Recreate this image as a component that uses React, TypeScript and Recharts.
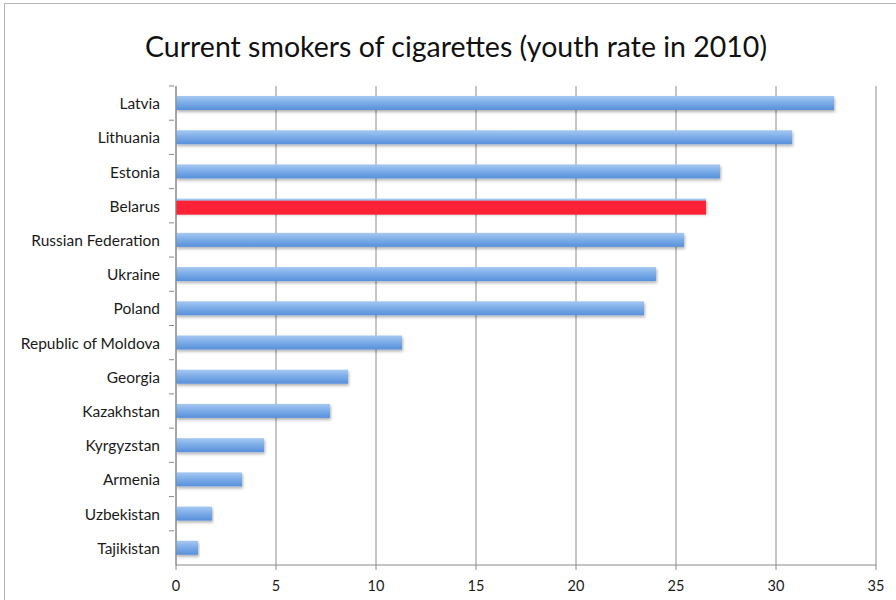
import React from "react";
import { BarChart, Bar, XAxis, YAxis, CartesianGrid, Cell } from "recharts";

const countries = [
  "Latvia",
  "Lithuania",
  "Estonia",
  "Belarus",
  "Russian Federation",
  "Ukraine",
  "Poland",
  "Republic of Moldova",
  "Georgia",
  "Kazakhstan",
  "Kyrgyzstan",
  "Armenia",
  "Uzbekistan",
  "Tajikistan",
];
const rates = [32.9, 30.8, 27.2, 26.5, 25.4, 24.0, 23.4, 11.3, 8.6, 7.7, 4.4, 3.3, 1.8, 1.1];
const highlighted = "Belarus";
const xTicks = [0, 5, 10, 15, 20, 25, 30, 35];
const title = "Current smokers of cigarettes (youth rate in 2010)";

const data = countries.map((c, i) => ({ country: c, rate: rates[i] }));

const W = 896;
const H = 600;
const M = { top: 86, right: 20, bottom: 0, left: 0 };
const X_AXIS_H = 35;
const Y_AXIS_W = 176;
const FONT = "Lato, 'Open Sans', sans-serif";
const bandSize = (H - M.top - M.bottom - X_AXIS_H) / countries.length;

const YTick = (props: any) => {
  const { x, y, payload } = props;
  return (
    <g>
      <line x1={x + 1} x2={x + 6} y1={y - bandSize / 2} y2={y - bandSize / 2} stroke="#888" />
      <text x={x - 8} y={y} dy={6} textAnchor="end" fontSize={15.5} fill="#1a1a1a" fontFamily={FONT}>
        {payload.value}
      </text>
    </g>
  );
};

const BarShape = (props: any) => {
  const { x, y, width, height, payload } = props;
  if (width <= 0) return null;
  if (payload && payload.country === highlighted) {
    return (
      <g>
        <rect x={x} y={y} width={width} height={height} fill="url(#blueGrad)" filter="url(#shadow)" />
        <rect x={x} y={y + 2} width={width} height={height} fill="#ff2236" />
      </g>
    );
  }
  return <rect x={x} y={y} width={width} height={height} fill="url(#blueGrad)" filter="url(#shadow)" />;
};

export default function App() {
  return (
    <div style={{ position: "absolute", left: 0, top: 0, width: W, height: H, background: "#fff", overflow: "hidden" }}>
      <div
        style={{
          position: "absolute",
          left: 4,
          top: 3,
          width: W + 10,
          height: H + 10,
          border: "1px solid #b5b5b5",
          boxSizing: "border-box",
        }}
      />
      <div
        style={{
          position: "absolute",
          left: 0,
          top: 29,
          width: 912,
          textAlign: "center",
          fontFamily: FONT,
          fontSize: 28.5,
          color: "#111",
          whiteSpace: "nowrap",
        }}
      >
        {title}
      </div>
      <div style={{ position: "absolute", left: 0, top: 0 }}>
        <BarChart width={W} height={H} data={data} layout="vertical" margin={M} barCategoryGap={0}>
          <defs>
            <linearGradient id="blueGrad" x1="0" y1="0" x2="0" y2="1">
              <stop offset="0%" stopColor="#a6c8f2" />
              <stop offset="45%" stopColor="#7eaee9" />
              <stop offset="100%" stopColor="#5790da" />
            </linearGradient>
            <filter id="shadow" x="-5%" y="-30%" width="110%" height="180%">
              <feDropShadow dx="1" dy="2" stdDeviation="1.5" floodColor="#000" floodOpacity="0.3" />
            </filter>
          </defs>
          <CartesianGrid horizontal={false} vertical={true} stroke="#8c8c8c" strokeWidth={1} />
          <XAxis
            type="number"
            domain={[0, 35]}
            ticks={xTicks}
            height={X_AXIS_H}
            axisLine={{ stroke: "#888" }}
            tickLine={{ stroke: "#888" }}
            tickSize={5}
            tick={{ fontSize: 14.5, fill: "#1a1a1a", fontFamily: FONT, dy: 9 }}
          />
          <YAxis
            type="category"
            dataKey="country"
            width={Y_AXIS_W}
            axisLine={{ stroke: "#888" }}
            tickLine={false}
            tick={<YTick />}
            interval={0}
          />
          <Bar dataKey="rate" barSize={14} isAnimationActive={false} shape={<BarShape />}>
            {data.map((d) => (
              <Cell key={d.country} />
            ))}
          </Bar>
        </BarChart>
      </div>
    </div>
  );
}
